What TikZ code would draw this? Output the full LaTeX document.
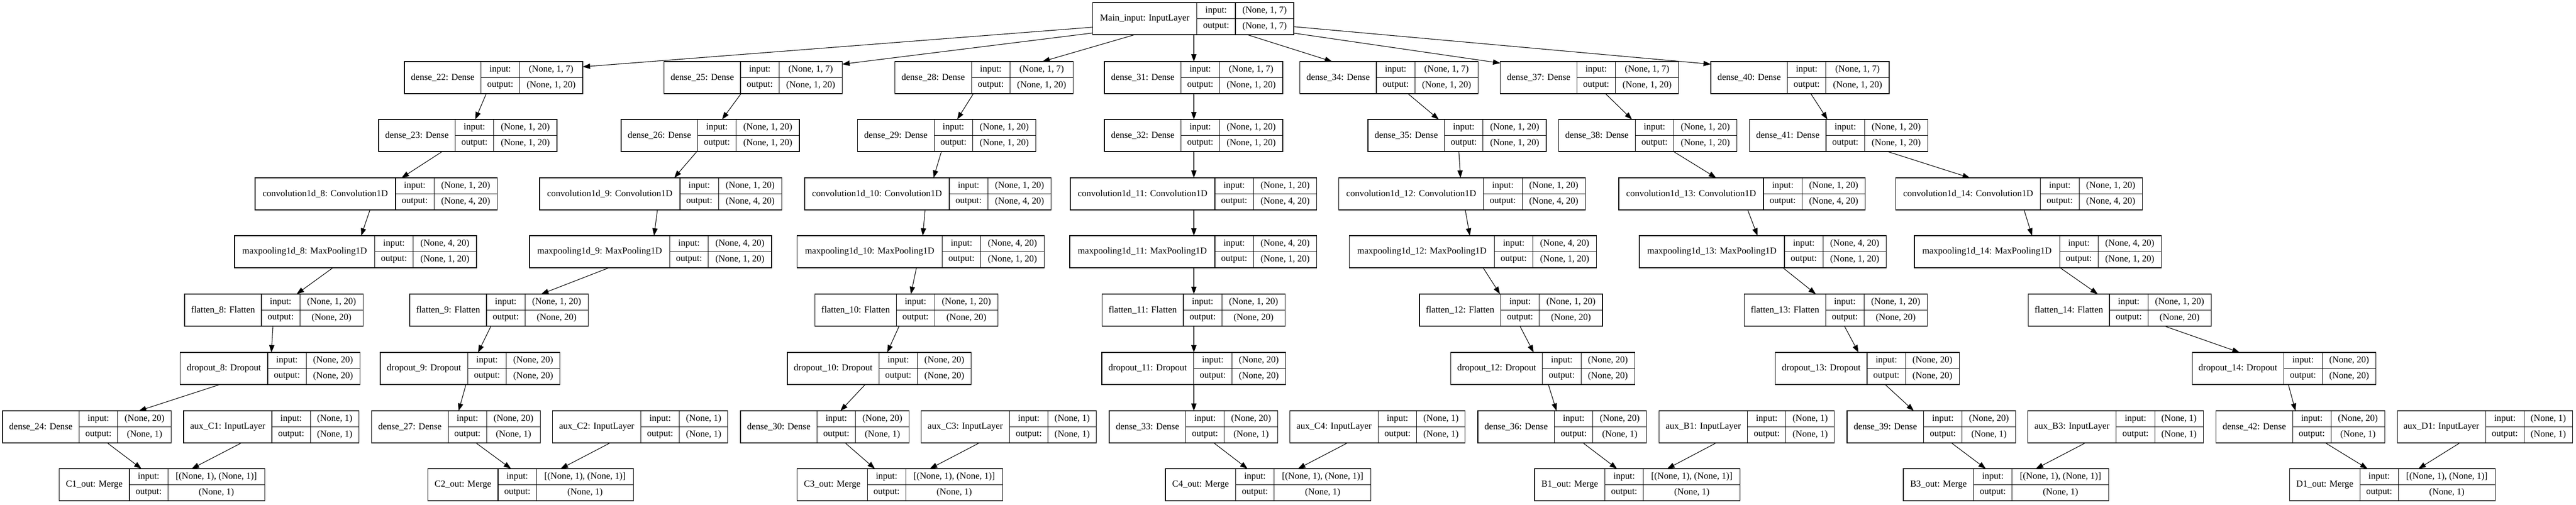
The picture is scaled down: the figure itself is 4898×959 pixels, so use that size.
\documentclass[tikz,border=0pt]{standalone}
\usepackage{fontspec}
\setmainfont{Liberation Serif}
\usetikzlibrary{arrows.meta,calc,fit}
\tikzset{
  cellbase/.style={draw=black, line width=1.1pt, outer sep=0pt, inner xsep=1pt, inner ysep=0pt,
    font=\fontsize{17.5}{20}\selectfont, align=center},
  namecell/.style={cellbase, minimum height=61pt},
  subcell/.style={cellbase, minimum height=30.5pt},
  arr/.style={line width=1.1pt, -{Triangle[length=14pt,width=10pt]}},
}
% #1 id, #2 left, #3 top, #4 name width, #5 label, #6 shape width, #7 input shape, #8 output shape
\newcommand{\layerbox}[8]{%
  \node[namecell, minimum width=#4pt, anchor=north west] (#1-n) at (#2,#3) {#5};
  \node[subcell, minimum width=73.3pt, anchor=north west] (#1-i) at (#1-n.north east) {input:};
  \node[subcell, minimum width=73.3pt, anchor=north west] (#1-o) at (#1-i.south west) {output:};
  \node[subcell, minimum width=#6pt, anchor=north west] (#1-si) at (#1-i.north east) {#7};
  \node[subcell, minimum width=#6pt, anchor=north west] (#1-so) at (#1-si.south west) {#8};
  \node[fit=(#1-n)(#1-so), inner sep=0pt, outer sep=0pt] (#1) {};
}
% edge from x=#2 on bottom of #1 to x=#4 on top of #3
\newcommand{\lnk}[4]{%
  \path (#2,0) coordinate (ea) (#4,0) coordinate (eb);
  \draw[arr] (#1.south -| ea) -- (#3.north -| eb);
}
\begin{document}
\begin{tikzpicture}[x=1pt, y=-1pt]
\fill[white] (0,0) rectangle (4898,959);
\useasboundingbox (0,0) rectangle (4898,959);

% row 0
\layerbox{main}{2077.7}{5}{198}{Main\_input: InputLayer}{111}{(None, 1, 7)}{(None, 1, 7)}

% row 1
\layerbox{d22}{769}{117}{145.5}{dense\_22: Dense}{120.2}{(None, 1, 7)}{(None, 1, 20)}
\layerbox{d25}{1262.5}{117}{145.5}{dense\_25: Dense}{120.2}{(None, 1, 7)}{(None, 1, 20)}
\layerbox{d28}{1701.7}{117}{145.5}{dense\_28: Dense}{120.2}{(None, 1, 7)}{(None, 1, 20)}
\layerbox{d31}{2100}{117}{145.5}{dense\_31: Dense}{120.2}{(None, 1, 7)}{(None, 1, 20)}
\layerbox{d34}{2471.5}{117}{145.5}{dense\_34: Dense}{120.2}{(None, 1, 7)}{(None, 1, 20)}
\layerbox{d37}{2852.8}{117}{145.5}{dense\_37: Dense}{120.2}{(None, 1, 7)}{(None, 1, 20)}
\layerbox{d40}{3253}{117}{145.5}{dense\_40: Dense}{120.2}{(None, 1, 7)}{(None, 1, 20)}

% row 2
\layerbox{d23}{720}{227}{145.5}{dense\_23: Dense}{120.2}{(None, 1, 20)}{(None, 1, 20)}
\layerbox{d26}{1181}{227}{145.5}{dense\_26: Dense}{120.2}{(None, 1, 20)}{(None, 1, 20)}
\layerbox{d29}{1630.7}{227}{145.5}{dense\_29: Dense}{120.2}{(None, 1, 20)}{(None, 1, 20)}
\layerbox{d32}{2100}{227}{145.5}{dense\_32: Dense}{120.2}{(None, 1, 20)}{(None, 1, 20)}
\layerbox{d35}{2601}{227}{145.5}{dense\_35: Dense}{120.2}{(None, 1, 20)}{(None, 1, 20)}
\layerbox{d38}{2963.7}{227}{145.5}{dense\_38: Dense}{120.2}{(None, 1, 20)}{(None, 1, 20)}
\layerbox{d41}{3326.5}{227}{145.5}{dense\_41: Dense}{120.2}{(None, 1, 20)}{(None, 1, 20)}

% row 3
\layerbox{c8}{485}{338}{267}{convolution1d\_8: Convolution1D}{120.2}{(None, 1, 20)}{(None, 4, 20)}
\layerbox{c9}{1026}{338}{267}{convolution1d\_9: Convolution1D}{120.2}{(None, 1, 20)}{(None, 4, 20)}
\layerbox{c10}{1530}{338}{275}{convolution1d\_10: Convolution1D}{120.2}{(None, 1, 20)}{(None, 4, 20)}
\layerbox{c11}{2035}{338}{275}{convolution1d\_11: Convolution1D}{120.2}{(None, 1, 20)}{(None, 4, 20)}
\layerbox{c12}{2545.8}{338}{275}{convolution1d\_12: Convolution1D}{120.2}{(None, 1, 20)}{(None, 4, 20)}
\layerbox{c13}{3078}{338}{275}{convolution1d\_13: Convolution1D}{120.2}{(None, 1, 20)}{(None, 4, 20)}
\layerbox{c14}{3604.8}{338}{275}{convolution1d\_14: Convolution1D}{120.2}{(None, 1, 20)}{(None, 4, 20)}

% row 4
\layerbox{m8}{446}{448}{266.5}{maxpooling1d\_8: MaxPooling1D}{120.2}{(None, 4, 20)}{(None, 1, 20)}
\layerbox{m9}{1007}{448}{266.5}{maxpooling1d\_9: MaxPooling1D}{120.2}{(None, 4, 20)}{(None, 1, 20)}
\layerbox{m10}{1515.6}{448}{276}{maxpooling1d\_10: MaxPooling1D}{120.2}{(None, 4, 20)}{(None, 1, 20)}
\layerbox{m11}{2034}{448}{276}{maxpooling1d\_11: MaxPooling1D}{120.2}{(None, 4, 20)}{(None, 1, 20)}
\layerbox{m12}{2565.6}{448}{276}{maxpooling1d\_12: MaxPooling1D}{120.2}{(None, 4, 20)}{(None, 1, 20)}
\layerbox{m13}{3117}{448}{276}{maxpooling1d\_13: MaxPooling1D}{120.2}{(None, 4, 20)}{(None, 1, 20)}
\layerbox{m14}{3640}{448}{276}{maxpooling1d\_14: MaxPooling1D}{120.2}{(None, 4, 20)}{(None, 1, 20)}

% row 5
\layerbox{f8}{351}{559}{146}{flatten\_8: Flatten}{120.2}{(None, 1, 20)}{(None, 20)}
\layerbox{f9}{779}{559}{146}{flatten\_9: Flatten}{120.2}{(None, 1, 20)}{(None, 20)}
\layerbox{f10}{1549.6}{559}{154.5}{flatten\_10: Flatten}{120.2}{(None, 1, 20)}{(None, 20)}
\layerbox{f11}{2095.5}{559}{154.5}{flatten\_11: Flatten}{120.2}{(None, 1, 20)}{(None, 20)}
\layerbox{f12}{2699}{559}{154.5}{flatten\_12: Flatten}{120.2}{(None, 1, 20)}{(None, 20)}
\layerbox{f13}{3316.6}{559}{154.5}{flatten\_13: Flatten}{120.2}{(None, 1, 20)}{(None, 20)}
\layerbox{f14}{3856.4}{559}{154.5}{flatten\_14: Flatten}{120.2}{(None, 1, 20)}{(None, 20)}

% row 6
\layerbox{o8}{342.6}{670}{166.4}{dropout\_8: Dropout}{102}{(None, 20)}{(None, 20)}
\layerbox{o9}{723}{670}{166.4}{dropout\_9: Dropout}{102}{(None, 20)}{(None, 20)}
\layerbox{o10}{1497}{670}{174.3}{dropout\_10: Dropout}{102}{(None, 20)}{(None, 20)}
\layerbox{o11}{2095}{670}{174.3}{dropout\_11: Dropout}{102}{(None, 20)}{(None, 20)}
\layerbox{o12}{2758.6}{670}{174.3}{dropout\_12: Dropout}{102}{(None, 20)}{(None, 20)}
\layerbox{o13}{3375.7}{670}{174.3}{dropout\_13: Dropout}{102}{(None, 20)}{(None, 20)}
\layerbox{o14}{4168}{670}{174.3}{dropout\_14: Dropout}{102}{(None, 20)}{(None, 20)}

% row 7
\layerbox{d24}{5}{781}{145.5}{dense\_24: Dense}{102}{(None, 20)}{(None, 1)}
\layerbox{aC1}{349}{781}{168}{aux\_C1: InputLayer}{92}{(None, 1)}{(None, 1)}
\layerbox{d27}{706.6}{781}{145.5}{dense\_27: Dense}{102}{(None, 20)}{(None, 1)}
\layerbox{aC2}{1050.6}{781}{168}{aux\_C2: InputLayer}{92}{(None, 1)}{(None, 1)}
\layerbox{d30}{1408}{781}{145.5}{dense\_30: Dense}{102}{(None, 20)}{(None, 1)}
\layerbox{aC3}{1751.4}{781}{168}{aux\_C3: InputLayer}{92}{(None, 1)}{(None, 1)}
\layerbox{d33}{2109}{781}{145.5}{dense\_33: Dense}{102}{(None, 20)}{(None, 1)}
\layerbox{aC4}{2452.5}{781}{168}{aux\_C4: InputLayer}{92}{(None, 1)}{(None, 1)}
\layerbox{d36}{2810}{781}{145.5}{dense\_36: Dense}{102}{(None, 20)}{(None, 1)}
\layerbox{aB1}{3154.6}{781}{168}{aux\_B1: InputLayer}{92}{(None, 1)}{(None, 1)}
\layerbox{d39}{3512}{781}{145.5}{dense\_39: Dense}{102}{(None, 20)}{(None, 1)}
\layerbox{aB3}{3855.8}{781}{168}{aux\_B3: InputLayer}{92}{(None, 1)}{(None, 1)}
\layerbox{d42}{4213.5}{781}{145.5}{dense\_42: Dense}{102}{(None, 20)}{(None, 1)}
\layerbox{aD1}{4558}{781}{168}{aux\_D1: InputLayer}{92}{(None, 1)}{(None, 1)}

% row 8
\layerbox{C1}{112.5}{891}{133.5}{C1\_out: Merge}{184}{[(None, 1), (None, 1)]}{(None, 1)}
\layerbox{C2}{813.5}{891}{133.5}{C2\_out: Merge}{184}{[(None, 1), (None, 1)]}{(None, 1)}
\layerbox{C3}{1515.6}{891}{133.5}{C3\_out: Merge}{184}{[(None, 1), (None, 1)]}{(None, 1)}
\layerbox{C4}{2216}{891}{133.5}{C4\_out: Merge}{184}{[(None, 1), (None, 1)]}{(None, 1)}
\layerbox{B1}{2918}{891}{133.5}{B1\_out: Merge}{184}{[(None, 1), (None, 1)]}{(None, 1)}
\layerbox{B3}{3619}{891}{133.5}{B3\_out: Merge}{184}{[(None, 1), (None, 1)]}{(None, 1)}
\layerbox{D1}{4353.6}{891}{133.5}{D1\_out: Merge}{184}{[(None, 1), (None, 1)]}{(None, 1)}

% edges from main input
\draw[arr] ($(main.north west)+(0,46.7)$) -- ($(d22.north east)+(0,10)$);
\draw[arr] ($(main.north west)+(0,57.7)$) -- ($(d25.north east)+(0,5)$);
\lnk{main}{2157.6}{d28}{1982}
\lnk{main}{2270}{d31}{2270}
\lnk{main}{2371.6}{d34}{2533}
\draw[arr] ($(main.north east)+(0,58)$) -- ($(d37.north west)+(0,3)$);
\draw[arr] ($(main.north east)+(0,45.7)$) -- ($(d40.north west)+(0,5)$);

% row 1 -> row 2
\lnk{d22}{924.6}{d23}{903.7}
\lnk{d25}{1409}{d26}{1373}
\lnk{d28}{1850.8}{d29}{1820}
\lnk{d31}{2270}{d32}{2270}
\lnk{d34}{2677}{d35}{2735.6}
\lnk{d37}{3052.6}{d38}{3103}
\lnk{d40}{3443}{d41}{3474.6}

% row 2 -> row 3
\lnk{d23}{841}{c8}{763.6}
\lnk{d26}{1325}{c9}{1282}
\lnk{d29}{1790}{c10}{1775}
\lnk{d32}{2270}{c11}{2270}
\lnk{d35}{2773.8}{c12}{2777}
\lnk{d38}{3182}{c13}{3263}
\lnk{d41}{3588.6}{c14}{3745.5}

% row 3 -> row 4
\lnk{c8}{703.5}{m8}{686.7}
\lnk{c9}{1250}{m9}{1243.6}
\lnk{c10}{1759}{m10}{1754.5}
\lnk{c11}{2270}{m11}{2270}
\lnk{c12}{2786}{m12}{2794.7}
\lnk{c13}{3323}{m13}{3341.7}
\lnk{c14}{3848.5}{m14}{3863.7}

% row 4 -> row 5
\lnk{m8}{633}{f8}{564}
\lnk{m9}{1158}{f9}{1029}
\lnk{m10}{1742.5}{f10}{1732}
\lnk{m11}{2270}{f11}{2270}
\lnk{m12}{2820}{f12}{2852}
\lnk{m13}{3390}{f13}{3452.6}
\lnk{m14}{3917}{f14}{3988.7}

% row 5 -> row 6
\lnk{f8}{519}{o8}{516}
\lnk{f9}{933.5}{o9}{909}
\lnk{f10}{1709.6}{o10}{1687}
\lnk{f11}{2270}{o11}{2270}
\lnk{f12}{2890}{o12}{2916}
\lnk{f13}{3507}{o13}{3533.7}
\lnk{f14}{4115.7}{o14}{4258.4}

% row 6 -> row 7
\lnk{o8}{418}{d24}{264}
\lnk{o9}{886}{d27}{872}
\lnk{o10}{1645}{d30}{1598}
\lnk{o11}{2270}{d33}{2270}
\lnk{o12}{2944}{d36}{2959.5}
\lnk{o13}{3584.4}{d39}{3638.8}
\lnk{o14}{4351}{d42}{4364.6}

% row 7 -> row 8
\lnk{d24}{204}{C1}{269}
\lnk{aC1}{459}{C1}{364.5}
\lnk{d27}{905}{C2}{971.7}
\lnk{aC2}{1160}{C2}{1066}
\lnk{d30}{1607}{C3}{1663.5}
\lnk{aC3}{1862}{C3}{1768}
\lnk{d33}{2308}{C4}{2372}
\lnk{aC4}{2562}{C4}{2468}
\lnk{d36}{3010}{B1}{3074.5}
\lnk{aB1}{3263}{B1}{3170}
\lnk{d39}{3710.4}{B3}{3775.8}
\lnk{aB3}{3965}{B3}{3871}
\lnk{d42}{4421.6}{D1}{4501.6}
\lnk{aD1}{4677}{D1}{4598.4}
\end{tikzpicture}
\end{document}
